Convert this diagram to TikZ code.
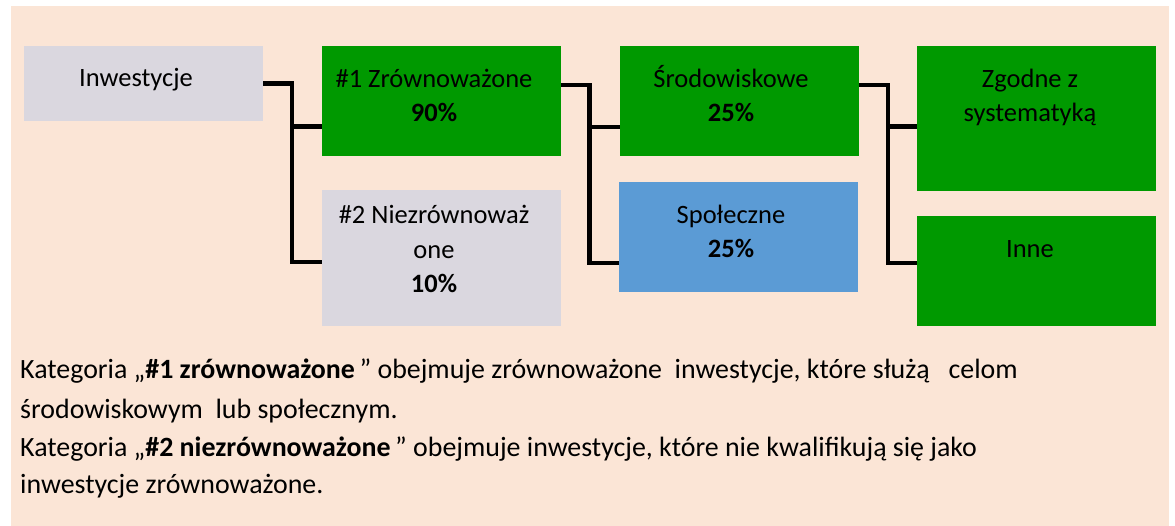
\documentclass[tikz,border=0pt]{standalone}
\usepackage{fontspec}
\setmainfont{Carlito}
\usetikzlibrary{positioning, calc}

\definecolor{peach}{HTML}{FBE5D6}
\definecolor{lavgray}{HTML}{DAD7DF}
\definecolor{esggreen}{HTML}{009900}
\definecolor{socblue}{HTML}{5B9BD5}

\tikzset{
  box/.style={rectangle, inner sep=0pt, minimum width=239pt, minimum height=110pt},
  greybox/.style={box, fill=lavgray},
  greenbox/.style={box, fill=esggreen},
  bluebox/.style={box, fill=socblue},
  boxtext/.style={anchor=base, align=center, inner sep=0pt},
  link/.style={line width=4.5pt, black},
  note/.style={anchor=base west, align=left, inner sep=0pt, font=\fontsize{27.9}{38.5}\selectfont}
}

\begin{document}
\begin{tikzpicture}[x=1pt, y=-1pt, font=\fontsize{26.5}{34.5}\selectfont]
	\useasboundingbox (0,0) rectangle (1175,526);
	\fill[peach] (11,6) rectangle (1169,526);
	
	% boxes
	\node[greybox, minimum height=75pt] (inw) at (143.5,83.5) {};
	\node[greenbox] (zrow) at (441.5,101) {};
	\node[greybox, minimum height=136pt] (niez) at (441.5,258) {};
	\node[greenbox] (srod) at (739.5,101) {};
	\node[bluebox] (spol) at (738.5,237) {};
	\node[greenbox, minimum height=145pt] (zgod) at (1036.5,118.5) {};
	\node[greenbox] (inne) at (1036.5,271) {};
	
	% box texts (base = last line)
	\node[boxtext] (inw-t) at (136,87) {Inwestycje};
	\node[boxtext] (zrow-t) at (434,122) {\#1 Zrównoważone\\\textbf{90\%}};
	\node[boxtext] (niez-t) at (434,293) {\#2 Niezrównoważ\\one\\\textbf{10\%}};
	\node[boxtext] (srod-t) at (731,122) {Środowiskowe\\\textbf{25\%}};
	\node[boxtext] (spol-t) at (731,258) {Społeczne\\\textbf{25\%}};
	\node[boxtext] (zgod-t) at (1030,122) {Zgodne z\\systematyką};
	\node[boxtext] (inne-t) at (1030,258) {Inne};
	
	% connectors
	\coordinate (j1) at (292,262);
	\coordinate (b1) at (292,126.5);
	\draw[link] (inw.east) -| (j1) -- (j1 -| niez.west);
	\draw[link] (b1) -- (b1 -| zrow.west);
	
	\coordinate (j2) at (589.5,263);
	\coordinate (b2) at (589.5,127);
	\draw[link] ([yshift=16pt]zrow.east) -| (j2) -- (j2 -| spol.west);
	\draw[link] (b2) -- (b2 -| srod.west);
	
	\coordinate (j3) at (888,263);
	\coordinate (b3) at (888,126.5);
	\draw[link] ([yshift=16pt]srod.east) -| (j3) -- (j3 -| inne.west);
	\draw[link] (b3) -- (b3 -| zgod.west);
	
	% notes
	\node[note] (cat1) at (20,418) {Kategoria „\textbf{\#1 zrównoważone}\,” obejmuje zrównoważone\ \ inwestycje, które służą\ \ \ celom\\[1.5pt]środowiskowym\ \ lub społecznym.};
	\node[note] (cat2) at (20,493) {Kategoria „\textbf{\#2 niezrównoważone}\,” obejmuje inwestycje, które nie kwalifikują się jako\\[-1.5pt]inwestycje zrównoważone.};
\end{tikzpicture}
\end{document}
